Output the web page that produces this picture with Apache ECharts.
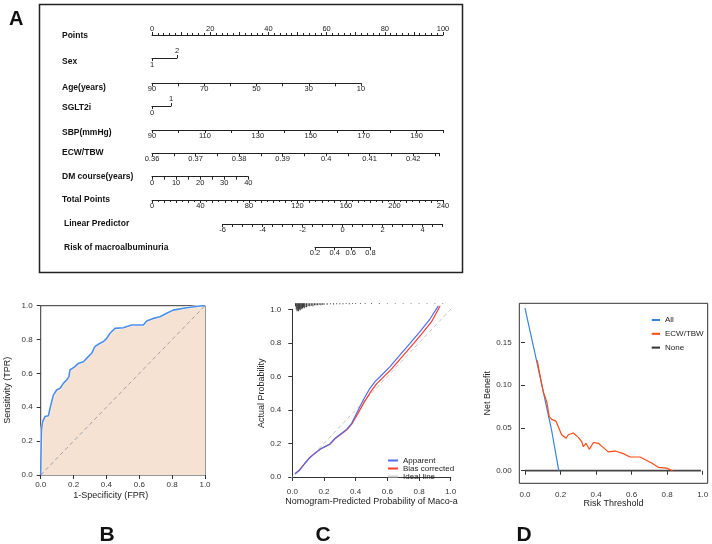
<!DOCTYPE html>
<html>
<head>
<meta charset="utf-8">
<script src="https://cdn.jsdelivr.net/npm/echarts@6/dist/echarts.min.js"></script>
<style>
  html, body { margin: 0; padding: 0; background: #fff; }
  #chart { width: 712px; height: 544px; }
</style>
</head>
<body>
<div id="chart"></div>
<script>
const FONT = 'Liberation Sans, Arial, sans-serif';
const INK = '#222';

// ---- nomogram scales ----
const nomoLabels = ['Points', 'Sex', 'Age(years)', 'SGLT2i', 'SBP(mmHg)', 'ECW/TBW',
  'DM course(years)', 'Total Points', 'Linear Predictor', 'Risk of macroalbuminuria'];
const pointsLabels = [0, 20, 40, 60, 80, 100];
const sexLevels = [1, 2];
const ageLabels = [90, 70, 50, 30, 10];
const sglt2iLevels = [0, 1];
const sbpLabels = [90, 110, 130, 150, 170, 190];
const ecwLabels = [0.36, 0.37, 0.38, 0.39, 0.4, 0.41, 0.42];
const dmLabels = [0, 10, 20, 30, 40];
const totalLabels = [0, 40, 80, 120, 160, 200, 240];
const lpLabels = [-6, -4, -2, 0, 2, 4];
const riskLabels = [0.2, 0.4, 0.6, 0.8];

// ---- ROC ----
const rocFpr = [0, 0.003, 0.005, 0.012, 0.026, 0.047, 0.057, 0.077, 0.097, 0.118, 0.138, 0.158, 0.172, 0.178,
  0.209, 0.229, 0.26, 0.29, 0.31, 0.33, 0.361, 0.381, 0.402, 0.422, 0.452, 0.503, 0.554, 0.625, 0.645,
  0.686, 0.726, 0.767, 0.807, 0.888, 0.97, 1.0];
const rocTpr = [0, 0.2, 0.27, 0.315, 0.345, 0.35, 0.394, 0.472, 0.502, 0.512, 0.541, 0.561, 0.581, 0.62,
  0.64, 0.659, 0.669, 0.699, 0.719, 0.758, 0.778, 0.787, 0.807, 0.837, 0.866, 0.87, 0.886, 0.886, 0.909,
  0.925, 0.935, 0.955, 0.974, 0.988, 0.998, 1.0];
const rocAuc = '0.795';
const rocCi = '0.752-0.838';

// ---- calibration ----
const calPredApparent = [0.017, 0.048, 0.08, 0.112, 0.143, 0.175, 0.206, 0.238, 0.27, 0.301, 0.343, 0.375, 0.406,
  0.448, 0.49, 0.522, 0.554, 0.617, 0.68, 0.743, 0.806, 0.869, 0.922];
const calApparent = [0.018, 0.042, 0.082, 0.117, 0.141, 0.165, 0.181, 0.197, 0.231, 0.254, 0.284, 0.32, 0.38,
  0.459, 0.529, 0.569, 0.598, 0.658, 0.728, 0.797, 0.867, 0.942, 1.02];
const calPredCorrected = [0.017, 0.048, 0.08, 0.112, 0.143, 0.175, 0.206, 0.238, 0.27, 0.301, 0.343, 0.375, 0.41,
  0.455, 0.5, 0.532, 0.564, 0.627, 0.69, 0.753, 0.816, 0.879, 0.933];
const calCorrected = [0.02, 0.045, 0.083, 0.118, 0.142, 0.165, 0.18, 0.195, 0.228, 0.25, 0.28, 0.315, 0.372,
  0.448, 0.515, 0.555, 0.585, 0.645, 0.713, 0.782, 0.852, 0.926, 1.02];
const calIdeal = [-0.015, 1.02];
const rugX = [0.02, 0.025, 0.03, 0.035, 0.04, 0.045, 0.05, 0.055, 0.06, 0.065, 0.07, 0.075, 0.08, 0.09, 0.1,
  0.11, 0.12, 0.13, 0.14, 0.15, 0.16, 0.17, 0.18, 0.19, 0.2, 0.22, 0.24, 0.26, 0.28, 0.3, 0.32, 0.34, 0.36,
  0.38, 0.4, 0.43, 0.46, 0.5, 0.55, 0.6, 0.65, 0.7, 0.75, 0.8, 0.85, 0.9, 0.95];
const rugCount = [3, 6, 8, 7, 8, 6, 7, 5, 6, 5, 4, 5, 4, 4, 3, 3, 2.5, 3, 2, 2, 2, 1.5, 2, 1.5, 1.5, 1.5, 1,
  1.2, 1, 1, 1, 0.8, 1, 0.8, 0.8, 0.7, 0.7, 0.6, 0.6, 0.5, 0.5, 0.5, 0.4, 0.4, 0.4, 0.4, 0.4];

// ---- decision curve ----
const dcaAllX = [0, 0.05, 0.1, 0.15, 0.19];
const dcaAllY = [0.19, 0.143, 0.095, 0.047, 0];
const dcaNoneX = [0, 0.99];
const dcaNoneY = [0, 0];
const dcaEcwX = [0.069, 0.084, 0.103, 0.122, 0.137, 0.15, 0.174, 0.188, 0.206, 0.231, 0.244, 0.272, 0.30,
  0.319, 0.328, 0.343, 0.362, 0.385, 0.413, 0.441, 0.469, 0.507, 0.553, 0.591, 0.647, 0.685, 0.713, 0.75,
  0.797, 0.831];
const dcaEcwY = [0.129, 0.112, 0.092, 0.081, 0.063, 0.060, 0.058, 0.051, 0.042, 0.038, 0.042, 0.044, 0.039,
  0.034, 0.028, 0.032, 0.025, 0.033, 0.032, 0.027, 0.022, 0.023, 0.020, 0.016, 0.016, 0.012, 0.009, 0.004,
  0.003, 0.0];
const dcaXTicks = [0, 0.2, 0.4, 0.6, 0.8, 1.0];
const dcaYTicks = [0, 0.05, 0.1, 0.15];

const zip = (xs, ys) => xs.map((x, i) => [x, ys[i]]);
const logit = p => Math.log(p / (1 - p));
const num = v => String(+(+v).toFixed(3));

const grids = [], xAxes = [], yAxes = [];
function addGrid(g) {
  grids.push(Object.assign({ outerBoundsMode: 'none', containLabel: false }, g));
  const gi = grids.length - 1;
  yAxes.push({ gridIndex: gi, type: 'value', show: false, min: 0, max: 1 });
  return gi;
}
function nomoAxis(gi, o) {
  xAxes.push({
    type: 'value', gridIndex: gi, min: o.min, max: o.max, inverse: !!o.inverse,
    position: o.position || 'bottom', interval: o.interval, silent: true,
    axisLine: { show: o.line !== false, lineStyle: { color: INK, width: 1 } },
    axisTick: { show: true, length: o.tickLen || 3, lineStyle: { color: INK, width: 1 }, customValues: o.tickValues },
    minorTick: { show: !!o.minor, splitNumber: o.minor || 5, length: 2, lineStyle: { color: INK, width: 1 } },
    splitLine: { show: false }, minorSplitLine: { show: false },
    axisLabel: {
      show: true, customValues: o.labels, margin: o.margin || 2, fontSize: 7.5, color: INK, fontFamily: FONT,
      formatter: o.formatter || num, showMinLabel: true, showMaxLabel: true, hideOverlap: false
    }
  });
}

// nomogram rows (line y positions)
const rowY = [35, 58, 83.3, 106, 130, 153.3, 176.7, 200, 224, 247.3];
const labelY = [35.5, 61.5, 87.5, 108, 132.5, 152.5, 176.5, 200, 224, 248];
const x0 = 152;
const lpLeft = 222.7, lpRight = 442.7, lpMin = -6, lpMax = 5;
const lpPx = v => lpLeft + (v - lpMin) * (lpRight - lpLeft) / (lpMax - lpMin);

let g;
g = addGrid({ left: x0, top: rowY[0], width: 291, height: 0 });
nomoAxis(g, { min: 0, max: 100, position: 'top', interval: 10, minor: 5, labels: pointsLabels });
g = addGrid({ left: x0, top: rowY[1], width: 25, height: 0 });
nomoAxis(g, { min: sexLevels[0], max: sexLevels[1], tickValues: [sexLevels[0]], labels: [sexLevels[0]], margin: 3 });
nomoAxis(g, { min: sexLevels[0], max: sexLevels[1], position: 'top', line: false, tickValues: [sexLevels[1]], labels: [sexLevels[1]], margin: 3 });
g = addGrid({ left: x0, top: rowY[2], width: 209, height: 0 });
nomoAxis(g, { min: 10, max: 90, inverse: true, interval: 10, labels: ageLabels });
g = addGrid({ left: x0, top: rowY[3], width: 19, height: 0 });
nomoAxis(g, { min: sglt2iLevels[0], max: sglt2iLevels[1], tickValues: [sglt2iLevels[0]], labels: [sglt2iLevels[0]], margin: 3 });
nomoAxis(g, { min: sglt2iLevels[0], max: sglt2iLevels[1], position: 'top', line: false, tickValues: [sglt2iLevels[1]], labels: [sglt2iLevels[1]], margin: 3 });
g = addGrid({ left: x0, top: rowY[4], width: 291, height: 0 });
nomoAxis(g, { min: 90, max: 200, interval: 10, labels: sbpLabels });
g = addGrid({ left: x0, top: rowY[5], width: 287.3, height: 0 });
nomoAxis(g, { min: 0.36, max: 0.426, interval: 0.005, labels: ecwLabels });
g = addGrid({ left: x0, top: rowY[6], width: 96.3, height: 0 });
nomoAxis(g, { min: 0, max: 40, interval: 5, labels: dmLabels });
g = addGrid({ left: x0, top: rowY[7], width: 291, height: 0 });
nomoAxis(g, { min: 0, max: 240, interval: 10, minor: 2, labels: totalLabels });
g = addGrid({ left: lpLeft, top: rowY[8], width: lpRight - lpLeft, height: 0 });
nomoAxis(g, { min: lpMin, max: lpMax, interval: 0.5, labels: lpLabels });
const riskMin = logit(riskLabels[0]), riskMax = logit(riskLabels[riskLabels.length - 1]);
g = addGrid({ left: lpPx(riskMin), top: rowY[9], width: lpPx(riskMax) - lpPx(riskMin), height: 0 });
nomoAxis(g, {
  min: riskMin, max: riskMax, tickValues: riskLabels.map(logit), labels: riskLabels.map(logit),
  formatter: v => String(Math.round(10 / (1 + Math.exp(-v))) / 10)
});

// shared styles for the lower panels
const tickStyle = { show: true, length: 4, lineStyle: { color: '#333', width: 1 } };
const labStyle = { fontSize: 8, color: '#333', fontFamily: FONT, showMinLabel: true, showMaxLabel: true, hideOverlap: false };
const nameStyle = { fontSize: 9, color: '#222', fontFamily: FONT };

// ROC
const rocG = grids.length;
grids.push({ left: 40.7, top: 305.7, width: 164.3, height: 169.3, show: true, borderColor: '#333', borderWidth: 1,
  backgroundColor: 'transparent', outerBoundsMode: 'none', containLabel: false });
const rocX = xAxes.push({
  type: 'value', gridIndex: rocG, min: 0, max: 1, interval: 0.2, axisLine: { show: false },
  axisTick: tickStyle, splitLine: { show: false },
  axisLabel: Object.assign({ margin: 6, formatter: v => v.toFixed(1) }, labStyle),
  name: '1-Specificity (FPR)', nameLocation: 'middle', nameGap: 16,
  nameTextStyle: Object.assign({ padding: [0, 24, 0, 0] }, nameStyle)
}) - 1;
const rocY = yAxes.push({
  type: 'value', gridIndex: rocG, min: 0, max: 1, interval: 0.2, axisLine: { show: false },
  axisTick: tickStyle, splitLine: { show: false },
  axisLabel: Object.assign({ margin: 8, formatter: v => v.toFixed(1) }, labStyle),
  name: 'Sensitivity (TPR)', nameLocation: 'middle', nameGap: 29, nameTextStyle: nameStyle
}) - 1;

// calibration
const calG = grids.length;
grids.push({ left: 292.3, top: 309.3, width: 158.4, height: 167.7, outerBoundsMode: 'none', containLabel: false });
const calX = xAxes.push({
  type: 'value', gridIndex: calG, min: 0, max: 1, interval: 0.2, offset: 7,
  axisLine: { show: true, lineStyle: { color: '#333', width: 1 } },
  axisTick: tickStyle, splitLine: { show: false },
  axisLabel: Object.assign({ margin: 4, formatter: v => v.toFixed(1) }, labStyle),
  name: 'Nomogram-Predicted Probability of Maco-a', nameLocation: 'middle', nameGap: 13, nameTextStyle: nameStyle
}) - 1;
const calY = yAxes.push({
  type: 'value', gridIndex: calG, min: 0, max: 1, interval: 0.2, offset: 6,
  axisLine: { show: true, lineStyle: { color: '#333', width: 1 } },
  axisTick: tickStyle, splitLine: { show: false },
  axisLabel: Object.assign({ margin: 5, formatter: v => v.toFixed(1) }, labStyle),
  name: 'Actual Probability', nameLocation: 'middle', nameGap: 20, nameTextStyle: nameStyle
}) - 1;

// calibration risk distribution (hanging from the top)
const rugG = grids.length;
grids.push({ left: 292.3, top: 303.3, width: 158.4, height: 9, outerBoundsMode: 'none', containLabel: false });
const rugXi = xAxes.push({ type: 'value', gridIndex: rugG, min: 0, max: 1, show: false }) - 1;
const rugYi = yAxes.push({ type: 'value', gridIndex: rugG, min: 0, max: 9, inverse: true, show: false }) - 1;

// decision curve
const dcaG = grids.length;
grids.push({ left: 519.3, top: 303.3, width: 188.4, height: 180, show: true, borderColor: '#333', borderWidth: 1,
  backgroundColor: 'transparent', outerBoundsMode: 'none', containLabel: false });
const dcaX = xAxes.push({
  type: 'value', gridIndex: dcaG, min: -0.032, max: 1.028, axisLine: { show: false },
  axisTick: Object.assign({ customValues: dcaXTicks }, tickStyle), splitLine: { show: false },
  axisLabel: Object.assign({ margin: 7, customValues: dcaXTicks, formatter: v => v.toFixed(1) }, labStyle),
  name: 'Risk Threshold', nameLocation: 'middle', nameGap: 15.5, nameTextStyle: nameStyle
}) - 1;
const dcaY = yAxes.push({
  type: 'value', gridIndex: dcaG, min: -0.0147, max: 0.1956, axisLine: { show: false },
  axisTick: Object.assign({ customValues: dcaYTicks }, tickStyle), splitLine: { show: false },
  axisLabel: Object.assign({ margin: 7.6, customValues: dcaYTicks, formatter: v => v.toFixed(2) }, labStyle),
  name: 'Net Benefit', nameLocation: 'middle', nameGap: 25.5, nameTextStyle: nameStyle
}) - 1;

const lineBase = { type: 'line', showSymbol: false, symbol: 'none', silent: true, smooth: false };
const letterFont = 'Liberation Sans Narrow, ' + FONT;

const graphic = [
  { type: 'rect', shape: { x: 39.5, y: 4.5, width: 423, height: 268 }, style: { fill: 'none', stroke: '#222', lineWidth: 1.5 }, silent: true },
  { type: 'text', x: 9, y: 19, style: { text: 'A', fontSize: 20, fontWeight: 'bold', fontFamily: FONT, fill: '#111', verticalAlign: 'middle' } },
  { type: 'text', x: 107, y: 535, style: { text: 'B', fontSize: 21, fontWeight: 'bold', fontFamily: letterFont, fill: '#111', align: 'center', verticalAlign: 'middle' } },
  { type: 'text', x: 323, y: 535, style: { text: 'C', fontSize: 21, fontWeight: 'bold', fontFamily: letterFont, fill: '#111', align: 'center', verticalAlign: 'middle' } },
  { type: 'text', x: 524, y: 535, style: { text: 'D', fontSize: 21, fontWeight: 'bold', fontFamily: letterFont, fill: '#111', align: 'center', verticalAlign: 'middle' } },
  { type: 'text', x: 200, y: 442, style: { text: 'Model', fontSize: 8, fontFamily: FONT, fill: '#333', align: 'right', verticalAlign: 'middle' } },
  { type: 'text', x: 200, y: 455, style: { text: 'AUC: ' + rocAuc, fontSize: 8, fontFamily: FONT, fill: '#333', align: 'right', verticalAlign: 'middle' } },
  { type: 'text', x: 200, y: 468, style: { text: 'CI: ' + rocCi, fontSize: 8, fontFamily: FONT, fill: '#333', align: 'right', verticalAlign: 'middle' } }
];
nomoLabels.forEach((t, i) => {
  graphic.push({ type: 'text', x: i >= 8 ? 64 : 62, y: labelY[i], silent: true,
    style: { text: t, fontSize: 8.5, fontWeight: 'bold', fontFamily: FONT, fill: '#111', verticalAlign: 'middle' } });
});

const chart = echarts.init(document.getElementById('chart'), null, { renderer: 'canvas' });
chart.setOption({
  animation: false,
  backgroundColor: '#fff',
  textStyle: { fontFamily: FONT },
  grid: grids,
  xAxis: xAxes,
  yAxis: yAxes,
  legend: [
    {
      data: ['Apparent', 'Bias corrected', 'Ideal line'], orient: 'vertical', left: 388, top: 456.5,
      itemWidth: 10, itemHeight: 2, itemGap: 0, icon: 'rect', padding: 0, selectedMode: false,
      textStyle: { fontSize: 8, lineHeight: 8, color: '#222', fontFamily: FONT }
    },
    {
      data: ['All', 'ECW/TBW', 'None'], orient: 'vertical', left: 651.7, top: 316,
      itemWidth: 8.3, itemHeight: 2, itemGap: 5.8, icon: 'rect', padding: 0, selectedMode: false,
      textStyle: { fontSize: 8, lineHeight: 8, color: '#222', fontFamily: FONT }
    }
  ],
  graphic: graphic,
  series: [
    Object.assign({}, lineBase, { xAxisIndex: rocX, yAxisIndex: rocY, data: zip(rocFpr, rocTpr), z: 1,
      lineStyle: { color: '#fff', width: 2.5 }, areaStyle: { color: '#f6e2d3', opacity: 1 } }),
    Object.assign({}, lineBase, { xAxisIndex: rocX, yAxisIndex: rocY, data: [[0, 0], [1, 1]], z: 2,
      lineStyle: { color: '#a0a0a0', width: 1, type: [4, 3] } }),
    Object.assign({}, lineBase, { xAxisIndex: rocX, yAxisIndex: rocY, data: zip(rocFpr, rocTpr), z: 3,
      lineStyle: { color: '#4a8ee8', width: 1.6 } }),

    Object.assign({}, lineBase, { name: 'Ideal line', xAxisIndex: calX, yAxisIndex: calY, clip: false,
      data: zip(calIdeal, calIdeal), itemStyle: { color: '#cfcfcf' }, lineStyle: { color: '#c4c4c4', width: 1, type: [4, 3] } }),
    Object.assign({}, lineBase, { name: 'Bias corrected', xAxisIndex: calX, yAxisIndex: calY, clip: false,
      data: zip(calPredCorrected, calCorrected), itemStyle: { color: '#ff3b2f' }, lineStyle: { color: '#ff3b2f', width: 1.2 } }),
    Object.assign({}, lineBase, { name: 'Apparent', xAxisIndex: calX, yAxisIndex: calY, clip: false,
      data: zip(calPredApparent, calApparent), itemStyle: { color: '#4e6ef2' }, lineStyle: { color: '#4e6ef2', width: 1.2 } }),
    { type: 'bar', xAxisIndex: rugXi, yAxisIndex: rugYi, data: zip(rugX, rugCount), barWidth: 1,
      itemStyle: { color: '#333' }, silent: true },

    Object.assign({}, lineBase, { name: 'None', xAxisIndex: dcaX, yAxisIndex: dcaY, data: zip(dcaNoneX, dcaNoneY),
      itemStyle: { color: '#333' }, lineStyle: { color: '#444', width: 1.8 } }),
    Object.assign({}, lineBase, { name: 'All', xAxisIndex: dcaX, yAxisIndex: dcaY, data: zip(dcaAllX, dcaAllY),
      itemStyle: { color: '#3b82dc' }, lineStyle: { color: '#3b82dc', width: 1.2 } }),
    Object.assign({}, lineBase, { name: 'ECW/TBW', xAxisIndex: dcaX, yAxisIndex: dcaY, data: zip(dcaEcwX, dcaEcwY),
      itemStyle: { color: '#ff4a14' }, lineStyle: { color: '#ff4a14', width: 1.2 } })
  ]
});
</script>
</body>
</html>
